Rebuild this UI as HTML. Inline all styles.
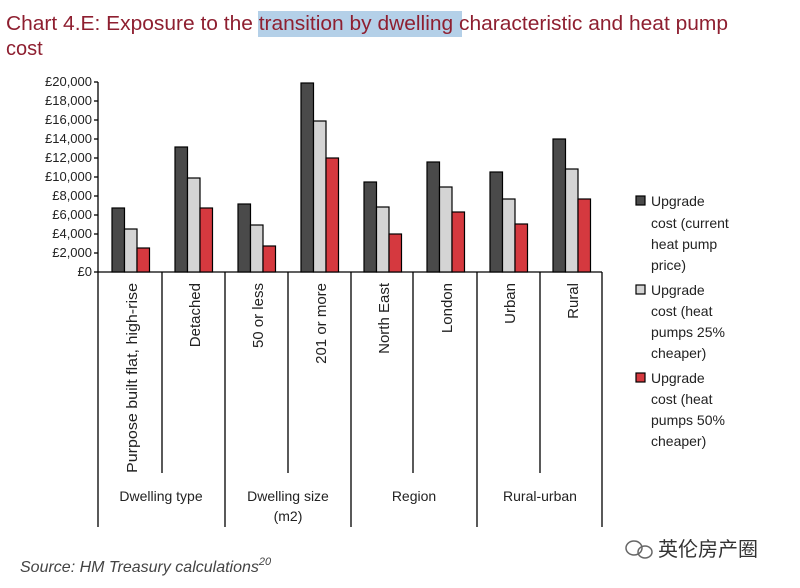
<!DOCTYPE html>
<html><head><meta charset="utf-8"><style>
body{margin:0;background:#fff;width:800px;height:583px;overflow:hidden;font-family:"Liberation Sans",sans-serif;}
</style></head><body>
<svg width="800" height="583" xmlns="http://www.w3.org/2000/svg" font-family="Liberation Sans, Noto Sans CJK SC, sans-serif">
<rect x="258" y="11" width="204" height="26" fill="#b4d0e8"/>
<text x="6" y="30" font-size="20" fill="#8e1f30" textLength="722" lengthAdjust="spacingAndGlyphs">Chart 4.E: Exposure to the transition by dwelling characteristic and heat pump</text>
<text x="6" y="55" font-size="20" fill="#8e1f30">cost</text>
<g font-size="13" fill="#222" text-anchor="end">
<text x="92" y="276">£0</text><text x="92" y="257">£2,000</text><text x="92" y="238">£4,000</text><text x="92" y="219">£6,000</text><text x="92" y="200">£8,000</text><text x="92" y="181">£10,000</text><text x="92" y="162">£12,000</text><text x="92" y="143">£14,000</text><text x="92" y="124">£16,000</text><text x="92" y="105">£18,000</text><text x="92" y="86">£20,000</text>
</g>
<g stroke="#000" stroke-width="1.3">
<line x1="98" y1="82" x2="98" y2="527"/>
<line x1="98" y1="272" x2="602" y2="272"/>
<line x1="94" y1="272" x2="98" y2="272"/><line x1="94" y1="253" x2="98" y2="253"/><line x1="94" y1="234" x2="98" y2="234"/><line x1="94" y1="215" x2="98" y2="215"/><line x1="94" y1="196" x2="98" y2="196"/><line x1="94" y1="177" x2="98" y2="177"/><line x1="94" y1="158" x2="98" y2="158"/><line x1="94" y1="139" x2="98" y2="139"/><line x1="94" y1="120" x2="98" y2="120"/><line x1="94" y1="101" x2="98" y2="101"/><line x1="94" y1="82" x2="98" y2="82"/>
<line x1="162" y1="272" x2="162" y2="473"/><line x1="288" y1="272" x2="288" y2="473"/><line x1="413" y1="272" x2="413" y2="473"/><line x1="540" y1="272" x2="540" y2="473"/>
<line x1="225" y1="272" x2="225" y2="527"/><line x1="351" y1="272" x2="351" y2="527"/><line x1="477" y1="272" x2="477" y2="527"/><line x1="602" y1="272" x2="602" y2="527"/>
</g>
<g stroke="#000" stroke-width="1.2">
<rect x="112" y="208" width="12.5" height="64" fill="#4a4a4a"/><rect x="124.5" y="229" width="12.5" height="43" fill="#d4d4d4"/><rect x="137" y="248" width="12.5" height="24" fill="#d5393f"/>
<rect x="175" y="147" width="12.5" height="125" fill="#4a4a4a"/><rect x="187.5" y="178" width="12.5" height="94" fill="#d4d4d4"/><rect x="200" y="208" width="12.5" height="64" fill="#d5393f"/>
<rect x="238" y="204" width="12.5" height="68" fill="#4a4a4a"/><rect x="250.5" y="225" width="12.5" height="47" fill="#d4d4d4"/><rect x="263" y="246" width="12.5" height="26" fill="#d5393f"/>
<rect x="301" y="83" width="12.5" height="189" fill="#4a4a4a"/><rect x="313.5" y="121" width="12.5" height="151" fill="#d4d4d4"/><rect x="326" y="158" width="12.5" height="114" fill="#d5393f"/>
<rect x="364" y="182" width="12.5" height="90" fill="#4a4a4a"/><rect x="376.5" y="207" width="12.5" height="65" fill="#d4d4d4"/><rect x="389" y="234" width="12.5" height="38" fill="#d5393f"/>
<rect x="427" y="162" width="12.5" height="110" fill="#4a4a4a"/><rect x="439.5" y="187" width="12.5" height="85" fill="#d4d4d4"/><rect x="452" y="212" width="12.5" height="60" fill="#d5393f"/>
<rect x="490" y="172" width="12.5" height="100" fill="#4a4a4a"/><rect x="502.5" y="199" width="12.5" height="73" fill="#d4d4d4"/><rect x="515" y="224" width="12.5" height="48" fill="#d5393f"/>
<rect x="553" y="139" width="12.5" height="133" fill="#4a4a4a"/><rect x="565.5" y="169" width="12.5" height="103" fill="#d4d4d4"/><rect x="578" y="199" width="12.5" height="73" fill="#d5393f"/>
</g>
<g font-size="15" fill="#222" text-anchor="end">
<text transform="translate(137,283) rotate(-90)" textLength="190" lengthAdjust="spacingAndGlyphs">Purpose built flat, high-rise</text>
<text transform="translate(200,283) rotate(-90)">Detached</text>
<text transform="translate(263,283) rotate(-90)">50 or less</text>
<text transform="translate(326,283) rotate(-90)">201 or more</text>
<text transform="translate(389,283) rotate(-90)">North East</text>
<text transform="translate(452,283) rotate(-90)">London</text>
<text transform="translate(515,283) rotate(-90)">Urban</text>
<text transform="translate(578,283) rotate(-90)">Rural</text>
</g>
<g font-size="14" fill="#222" text-anchor="middle">
<text x="161" y="501">Dwelling type</text>
<text x="288" y="501">Dwelling size</text><text x="288" y="521">(m2)</text>
<text x="414" y="501">Region</text>
<text x="540" y="501">Rural-urban</text>
</g>
<g stroke="#000" stroke-width="1.2">
<rect x="636" y="196" width="9" height="9" fill="#4a4a4a"/>
<rect x="636" y="285" width="9" height="9" fill="#d4d4d4"/>
<rect x="636" y="373" width="9" height="9" fill="#d5393f"/>
</g>
<g font-size="14" fill="#222">
<text x="651" y="206">Upgrade</text><text x="651" y="228">cost (current</text><text x="651" y="249">heat pump</text><text x="651" y="270">price)</text>
<text x="651" y="295">Upgrade</text><text x="651" y="316">cost (heat</text><text x="651" y="337">pumps 25%</text><text x="651" y="358">cheaper)</text>
<text x="651" y="383">Upgrade</text><text x="651" y="404">cost (heat</text><text x="651" y="425">pumps 50%</text><text x="651" y="446">cheaper)</text>
</g>
<text x="20" y="572" font-size="16" font-style="italic" fill="#444">Source: HM Treasury calculations<tspan font-size="11" dy="-7">20</tspan></text>
<g fill="none" stroke="#666" stroke-width="1.5"><ellipse cx="634" cy="548" rx="8" ry="7"/><ellipse cx="645" cy="552" rx="7" ry="6"/></g>
<text x="658" y="556" font-size="20" fill="#333" font-family="Noto Sans CJK SC, sans-serif">英伦房产圈</text>
</svg>
</body></html>
